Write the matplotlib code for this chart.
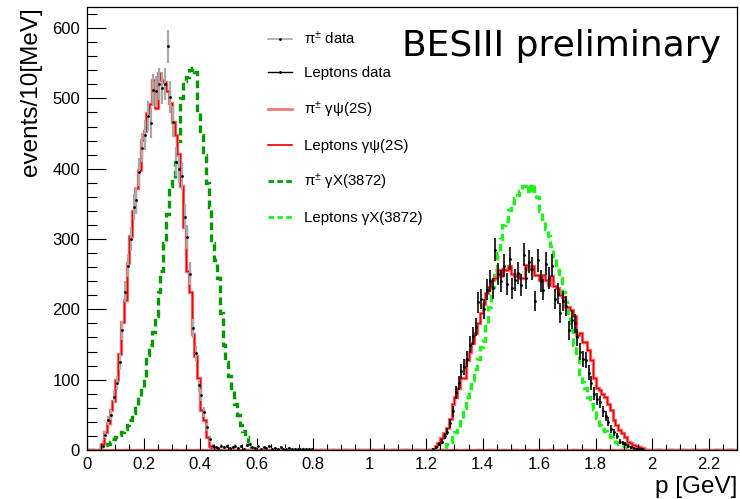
import numpy as np
import matplotlib
matplotlib.use("Agg")
import matplotlib.pyplot as plt
from matplotlib.lines import Line2D
from matplotlib.ticker import MultipleLocator

# ---------------- data (events per 10 MeV bin) ----------------
BIN = 0.01
NBINS = 230  # 0 .. 2.30 GeV

# pion data, bins starting at 0.05 GeV
pi_data_start = 0.05
pi_data = [5, 22, 42, 50, 75, 95, 125, 170, 225, 262,
           300, 345, 355, 395, 430, 448, 475, 465, 512, 510,
           520, 515, 520, 574, 502, 467, 410, 400, 389, 332,
           303, 251, 173, 138, 92, 78, 54, 33, 15, 6,
           4, 3, 6, 4, 5, 3, 4, 6, 3, 5,
           2, 7, 8, 4, 3, 5, 2, 4, 3, 5,
           2, 3, 2, 4, 1, 2, 3, 1, 2, 1,
           2, 1, 1, 2, 1]

# lepton data, bins starting at 1.22 GeV
lep_data_start = 1.22
lep_data = [2, 4, 8, 12, 20, 26, 38, 55, 82, 95,
            112, 118, 130, 150, 162, 175, 210, 215, 200, 228,
            240, 230, 285, 250, 240, 262, 236, 272, 230, 242,
            252, 235, 278, 245, 268, 258, 212, 270, 240, 228,
            265, 245, 262, 215, 222, 195, 212, 205, 170, 185,
            180, 160, 140, 130, 128, 110, 95, 80, 72, 68,
            55, 48, 40, 30, 25, 20, 12, 10, 8, 6,
            4, 3, 2, 1, 1]

# pi gamma psi(2S) MC, bins starting at 0.05 GeV
pi_psi_start = 0.05
pi_psi = [9, 25, 38, 57, 70, 100, 137, 182, 213, 266,
          305, 340, 372, 398, 441, 454, 479, 492, 526, 486,
          536, 526, 524, 510, 493, 467, 448, 421, 375, 317,
          254, 225, 165, 133, 102, 57, 43, 19, 5, 2]

# lepton gamma psi(2S) MC, bins starting at 1.22 GeV
lep_psi_start = 1.22
lep_psi = [2, 5, 10, 17, 24, 31, 44, 66, 76, 88,
           102, 102, 128, 140, 152, 167, 180, 195, 208, 223,
           232, 242, 245, 256, 247, 258, 256, 261, 251, 247,
           251, 244, 244, 263, 258, 261, 249, 249, 242, 249,
           242, 235, 247, 233, 230, 221, 218, 204, 204, 199,
           190, 163, 166, 154, 154, 142, 128, 102, 88, 85,
           80, 76, 66, 57, 43, 35, 28, 24, 19, 12,
           10, 7, 5, 4, 3]

# pi gamma X(3872) MC, bins starting at 0.05 GeV
pi_x_start = 0.05
pi_x = [5, 7, 9, 11, 15, 19, 22, 26, 30, 35,
        42, 52, 62, 72, 88, 104, 135, 150, 168, 190,
        225, 255, 295, 335, 375, 385, 410, 440, 500, 525,
        530, 540, 543, 538, 480, 448, 420, 380, 345, 295,
        270, 245, 195, 150, 125, 105, 88, 65, 50, 35,
        27, 18, 8, 3]

# lepton gamma X(3872) MC, bins starting at 1.26 GeV
lep_x_start = 1.26
lep_x = [3, 8, 12, 19, 26, 33, 45, 60, 75, 88,
         100, 115, 130, 147, 155, 180, 204, 232, 256, 280,
         300, 320, 325, 341, 351, 358, 362, 368, 375, 378,
         365, 378, 368, 360, 340, 328, 315, 305, 290, 273,
         256, 245, 225, 210, 195, 170, 150, 135, 105, 97,
         88, 75, 65, 58, 45, 36, 30, 27, 24, 18,
         14, 11, 8, 7, 5, 4, 3, 2, 1]

labels = ["\u03c0$^{\\pm}$ data", "Leptons data",
          "\u03c0$^{\\pm}$ \u03b3\u03c8(2S)", "Leptons \u03b3\u03c8(2S)",
          "\u03c0$^{\\pm}$ \u03b3X(3872)", "Leptons \u03b3X(3872)"]


def full(start, vals):
    arr = np.zeros(NBINS)
    i0 = int(round(start / BIN))
    arr[i0:i0 + len(vals)] = vals
    return arr


edges = np.arange(NBINS + 1) * BIN
centers = 0.5 * (edges[:-1] + edges[1:])

h_pi_data = full(pi_data_start, pi_data)
h_lep_data = full(lep_data_start, lep_data)
h_pi_psi = full(pi_psi_start, pi_psi)
h_lep_psi = full(lep_psi_start, lep_psi)
h_pi_x = full(pi_x_start, pi_x)
h_lep_x = full(lep_x_start, lep_x)

# ---------------- style ----------------
plt.rcParams["font.family"] = ["Liberation Sans", "DejaVu Sans"]
plt.rcParams["mathtext.fontset"] = "custom"
plt.rcParams["mathtext.rm"] = "Liberation Sans"
plt.rcParams["mathtext.it"] = "Liberation Sans"

PINK = "#f07878"
RED = "#ee0000"
DKGREEN = "#009a00"
LTGREEN = "#22ee22"
GREY = "#a8a8a8"

fig = plt.figure(figsize=(7.40, 4.99), dpi=100)
ax = fig.add_axes([87 / 740, 49 / 499, 650 / 740, 443 / 499])

dash = (0, (2.3, 1.3))
ax.stairs(h_pi_x, edges, color=DKGREEN, lw=2.4, linestyle=dash, baseline=None)
ax.stairs(h_lep_x, edges, color=LTGREEN, lw=2.4, linestyle=dash, baseline=None)

ax.stairs(h_pi_psi, edges, color=PINK, lw=2.4, baseline=None)
ax.stairs(h_pi_psi, edges, color=RED, lw=1.0, baseline=None)
ax.stairs(h_lep_psi, edges, color=PINK, lw=2.4, baseline=None)
ax.stairs(h_lep_psi, edges, color=RED, lw=1.0, baseline=None)

m = h_pi_data > 0
ax.errorbar(centers[m], h_pi_data[m], yerr=np.sqrt(h_pi_data[m]), xerr=0.003,
            fmt=".", ms=2, color="k", ecolor=GREY, elinewidth=1.6, capsize=0)
m = h_lep_data > 0
ax.errorbar(centers[m], h_lep_data[m], yerr=np.sqrt(h_lep_data[m]), xerr=0.003,
            fmt=".", ms=2, color="k", ecolor="#1a1a1a", elinewidth=1.3, capsize=0)

ax.set_xlim(0, 2.3)
ax.set_ylim(0, 630)

ax.xaxis.set_major_locator(MultipleLocator(0.2))
ax.xaxis.set_minor_locator(MultipleLocator(0.05))
ax.yaxis.set_major_locator(MultipleLocator(100))
ax.yaxis.set_minor_locator(MultipleLocator(20))
ax.xaxis.set_major_formatter(plt.FuncFormatter(lambda v, p: f"{v:g}"))
ax.tick_params(axis="x", which="major", direction="in", length=9, width=0.8,
               labelsize=12, pad=5)
ax.tick_params(axis="x", which="minor", direction="in", length=4.5, width=0.8)
ax.tick_params(axis="y", which="major", direction="in", length=14, width=0.8,
               labelsize=12, pad=5)
ax.tick_params(axis="y", which="minor", direction="in", length=7, width=0.8)
for s in ax.spines.values():
    s.set_linewidth(0.9)

ax.set_xlabel("p [GeV]", fontsize=17.5, loc="right", labelpad=3)
ax.set_ylabel("events/10[MeV]", fontsize=17.5, loc="top", labelpad=7.5)

ax.text(0.484, 0.889, "BESIII preliminary", transform=ax.transAxes,
        fontsize=26, family="DejaVu Sans", ha="left", va="baseline")

handles = [
    Line2D([], [], color=GREY, lw=1.2, marker=".", ms=2, mfc="k", mec="k"),
    Line2D([], [], color="k", lw=1.0, marker=".", ms=2, mfc="k", mec="k"),
    Line2D([], [], color=PINK, lw=2.0),
    Line2D([], [], color=RED, lw=1.2),
    Line2D([], [], color=DKGREEN, lw=2.0, linestyle=(0, (2.0, 1.2))),
    Line2D([], [], color=LTGREEN, lw=2.0, linestyle=(0, (2.0, 1.2))),
]
ax.legend(handles, labels, loc="upper left", bbox_to_anchor=(0.2785, 0.948),
          frameon=False, fontsize=10.8, labelspacing=1.27, handlelength=1.6,
          handletextpad=0.8, borderpad=0, borderaxespad=0)

fig.savefig("out.png", dpi=100)
